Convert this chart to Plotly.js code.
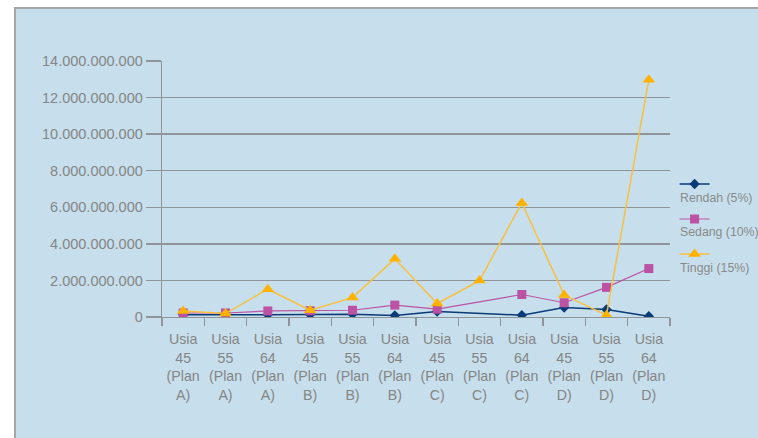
<!DOCTYPE html>
<html>
<head>
<meta charset="utf-8">
<script src="https://cdn.plot.ly/plotly-3.0.1.min.js"></script>
<style>
  html, body { margin: 0; padding: 0; background: #ffffff; width: 758px; height: 438px; overflow: hidden; }
  #frame { position: absolute; left: 14px; top: 7px; width: 742px; height: 429px;
           border-top: 2px solid #A3A7AA; border-left: 2px solid #A3A7AA; background: #C7DFEC; }
  #chart { width: 742px; height: 429px; }
</style>
</head>
<body>
<div id="frame"><div id="chart"></div></div>
<script>
// Categories (x-axis)
const categories = [
  "Usia<br>45<br>(Plan<br>A)", "Usia<br>55<br>(Plan<br>A)", "Usia<br>64<br>(Plan<br>A)",
  "Usia<br>45<br>(Plan<br>B)", "Usia<br>55<br>(Plan<br>B)", "Usia<br>64<br>(Plan<br>B)",
  "Usia<br>45<br>(Plan<br>C)", "Usia<br>55<br>(Plan<br>C)", "Usia<br>64<br>(Plan<br>C)",
  "Usia<br>45<br>(Plan<br>D)", "Usia<br>55<br>(Plan<br>D)", "Usia<br>64<br>(Plan<br>D)"
];

// Series names
const seriesNames = ["Rendah (5%)", "Sedang (10%)", "Tinggi (15%)"];

// Series values
const rendah = [120000000, 100000000, 120000000, 130000000, 150000000, 80000000,
                300000000, null, 100000000, 520000000, 410000000, 40000000];
const sedang = [220000000, 220000000, 330000000, 340000000, 370000000, 650000000,
                430000000, null, 1230000000, 780000000, 1620000000, 2650000000];
const tinggi = [330000000, 190000000, 1520000000, 370000000, 1060000000, 3180000000,
                740000000, 1990000000, 6240000000, 1200000000, 100000000, 12970000000];

// Y tick values
const yTicks = [0, 2000000000, 4000000000, 6000000000, 8000000000, 10000000000, 12000000000, 14000000000];

const font = "Liberation Sans, Arial, sans-serif";
const blankName = "&nbsp;<br>&nbsp;";

const traces = [
  { x: categories, y: rendah, type: "scatter", mode: "lines+markers", connectgaps: true,
    name: blankName, meta: seriesNames[0],
    line: { color: "#0A3A78", width: 1.5 },
    marker: { symbol: "diamond", size: 8, color: "#0A3A78" } },
  { x: categories, y: sedang, type: "scatter", mode: "lines+markers", connectgaps: true,
    name: blankName, meta: seriesNames[1],
    line: { color: "#BB52A4", width: 1.2 },
    marker: { symbol: "square", size: 9, color: "#BB52A4" } },
  { x: categories, y: tinggi, type: "scatter", mode: "lines+markers", connectgaps: true,
    name: blankName, meta: seriesNames[2],
    line: { color: "#F7C040", width: 1.5 },
    marker: { symbol: "triangle-up", size: 11, color: "#FFB300" } }
];

const legendTextY = [0.466, 0.333, 0.19];
const annotations = seriesNames.map((s, i) => ({
  xref: "paper", yref: "paper", x: 1.0157, y: legendTextY[i],
  xanchor: "left", yanchor: "middle", showarrow: false,
  text: s, font: { family: font, size: 12.3, color: "#8A8A8A" }
}));

const layout = {
  width: 742, height: 429,
  margin: { l: 146, r: 88, t: 52, b: 121, autoexpand: false },
  paper_bgcolor: "#C7DFEC",
  plot_bgcolor: "#C7DFEC",
  separators: ",.",
  font: { family: font, color: "#858585" },
  showlegend: true,
  legend: {
    x: 1.009, xanchor: "left", y: 0.576, yanchor: "top",
    bgcolor: "rgba(0,0,0,0)", borderwidth: 0,
    valign: "top", itemwidth: 30, tracegroupgap: 0,
    font: { family: font, size: 12.3, color: "rgba(0,0,0,0)" }
  },
  xaxis: {
    type: "category",
    range: [-0.5, 11.5],
    showgrid: false, zeroline: false,
    showline: true, linecolor: "#8E9498", linewidth: 1.3,
    ticks: "outside", tickson: "boundaries", ticklen: 8, tickcolor: "#8E9498", tickwidth: 1.3,
    ticklabelstandoff: 9,
    tickfont: { family: font, size: 14.2, color: "#858585" },
    tickangle: 0
  },
  yaxis: {
    range: [0, 14000000000],
    tickvals: yTicks, tickformat: ",d",
    showgrid: true, gridcolor: "#8E9498", gridwidth: 1.3,
    zeroline: false,
    showline: true, linecolor: "#8E9498", linewidth: 1.3,
    ticks: "outside", ticklen: 15, tickcolor: "#8E9498", tickwidth: 1.3,
    tickfont: { family: font, size: 14.5, color: "#858585" }
  },
  annotations: annotations,
  hovermode: false
};

Plotly.newPlot("chart", traces, layout, { displayModeBar: false, staticPlot: true });
</script>
</body>
</html>
